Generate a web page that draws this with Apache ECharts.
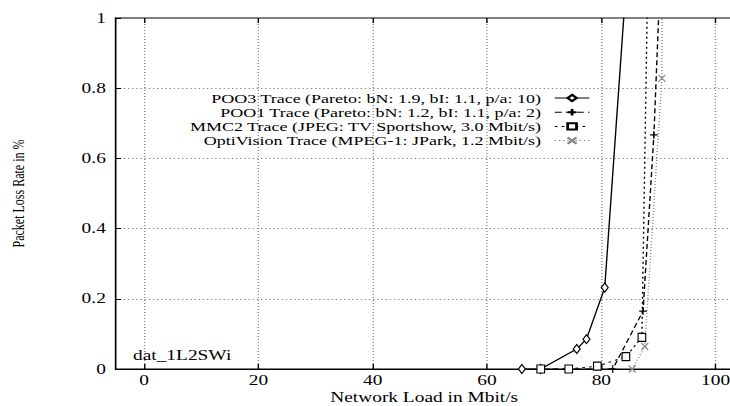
<!DOCTYPE html>
<html><head><meta charset="utf-8">
<script src="https://cdn.jsdelivr.net/npm/echarts@6/dist/echarts.min.js"></script>
<style>
html,body{margin:0;padding:0;background:#fff;overflow:hidden;width:730px;height:406px}
#c{width:527px;height:406px;transform:scaleX(1.3852);transform-origin:0 0}
</style>
</head><body><div id="c"></div>
<script>
var names = [
  'POO3 Trace (Pareto: bN: 1.9, bI: 1.1, p/a: 10)',
  'POO1 Trace (Pareto: bN: 1.2, bI: 1.1, p/a: 2)',
  'MMC2 Trace (JPEG: TV Sportshow, 3.0 Mbit/s)',
  'OptiVision Trace (MPEG-1: JPark, 1.2 Mbit/s)'
];
var poo3X = [66.1, 69.4, 75.7, 77.4, 80.6, 85.0];
var poo3Y = [0, 0, 0.057, 0.085, 0.232, 1.25];
var poo1X = [69.4, 82.0, 87.3, 89.2, 91.0];
var poo1Y = [0, 0, 0.165, 0.667, 1.4];
var mmc2X = [69.4, 74.3, 79.3, 84.3, 87.1, 89.0];
var mmc2Y = [0, 0, 0.008, 0.035, 0.09, 2.0];
var optiX = [85.4, 87.6, 90.6, 90.8];
var optiY = [0, 0.064, 0.828, 3.0];
var xTicks = [0, 20, 40, 60, 80, 100];

function pairs(xs, ys) { return xs.map(function (x, i) { return [x, ys[i]]; }); }
var FONT = 'Liberation Serif';
var plusPath = 'path://M0,5L10,5M5,0L5,10';
var crossPath = 'path://M0,0L10,10M10,0L0,10';

function mkSeries(name, data, color, type, symbol, size) {
  return {
    name: name, type: 'line', data: data, clip: true,
    symbol: symbol, symbolSize: size, showAllSymbol: true,
    lineStyle: { color: color, width: 1, type: type },
    itemStyle: { color: '#fff', borderColor: color, borderWidth: 1 },
    emphasis: { disabled: true }, animation: false
  };
}

function mkLegend(name, top) {
  return {
    data: [name], right: 101, top: top, align: 'right',
    itemWidth: 25, itemHeight: 8, padding: 0,
    lineStyle: { width: 1 },
    textStyle: { fontFamily: FONT, fontSize: 13, lineHeight: 13, color: '#000', padding: [0, 5, 0, 0] },
    selectedMode: false
  };
}

var chart = echarts.init(document.getElementById('c'), null, { renderer: 'svg' });
chart.setOption({
  animation: false,
  backgroundColor: '#fff',
  title: {
    text: 'dat_1L2SWi', left: 96, top: 348, padding: 0,
    textStyle: { fontFamily: FONT, fontSize: 14, fontWeight: 'normal', color: '#000' }
  },
  legend: [
    mkLegend(names[0], 91.5),
    mkLegend(names[1], 105.7),
    mkLegend(names[2], 119.9),
    mkLegend(names[3], 134.1)
  ],
  grid: {
    left: 83.4, right: -2, top: 18, bottom: 37,
    outerBoundsMode: 'none', containLabel: false,
    show: true, borderColor: '#000', borderWidth: 1
  },
  xAxis: [{
    type: 'value', min: -5, max: 103,
    name: 'Network Load in Mbit/s', nameLocation: 'middle', nameGap: 21, nameMoveOverlap: false,
    nameTextStyle: { fontFamily: FONT, fontSize: 14, lineHeight: 14, color: '#000' },
    axisLine: { lineStyle: { color: '#000', width: 1 } },
    axisTick: { inside: true, length: 5, customValues: xTicks, lineStyle: { color: '#000' } },
    axisLabel: { customValues: xTicks, fontFamily: FONT, fontSize: 14, lineHeight: 14, color: '#000', margin: 4 },
    splitLine: { show: true, lineStyle: { color: '#888', type: [1, 2], width: 1 } }
  }, {
    type: 'value', position: 'top', min: -5, max: 103,
    axisLine: { show: false },
    axisTick: { inside: true, length: 5, customValues: xTicks, lineStyle: { color: '#000' } },
    axisLabel: { show: false },
    splitLine: { show: false }
  }],
  yAxis: {
    type: 'value', min: 0, max: 1, interval: 0.2,
    name: 'Packet Loss Rate in %', nameLocation: 'middle', nameGap: 64, nameRotate: 90,
    nameTextStyle: { fontFamily: FONT, fontSize: 12, color: '#000' },
    axisLine: { show: true, onZero: false, lineStyle: { color: '#000', width: 1 } },
    axisTick: { inside: true, length: 4, lineStyle: { color: '#000' } },
    axisLabel: { fontFamily: FONT, fontSize: 14, color: '#000', margin: 7 },
    splitLine: { show: true, lineStyle: { color: '#888', type: [1, 2], width: 1 } }
  },
  series: [
    mkSeries(names[0], pairs(poo3X, poo3Y), '#000', 'solid', 'diamond', [5, 9]),
    mkSeries(names[1], pairs(poo1X, poo1Y), '#000', [5, 3], plusPath, [5.5, 8]),
    mkSeries(names[2], pairs(mmc2X, mmc2Y), '#000', [2, 3], 'rect', [5.5, 8]),
    mkSeries(names[3], pairs(optiX, optiY), '#888', [1, 2], crossPath, [5, 7])
  ]
});
</script>
</body></html>
